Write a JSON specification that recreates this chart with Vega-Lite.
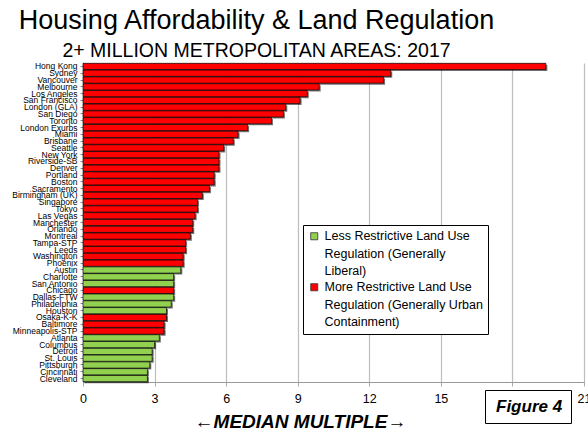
{
  "$schema": "https://vega.github.io/schema/vega-lite/v6.json",
  "width": 501,
  "height": 319,
  "autosize": {"type": "none"},
  "padding": {"left": 83, "top": 63, "right": 4, "bottom": 56},
  "background": "white",
  "config": {"view": {"stroke": null}},
  "title": {
    "text": "Housing Affordability & Land Regulation",
    "subtitle": "2+ MILLION METROPOLITAN AREAS: 2017",
    "font": "Liberation Sans",
    "fontSize": 27,
    "fontWeight": "normal",
    "color": "black",
    "subtitleFont": "Liberation Sans",
    "subtitleFontSize": 19.5,
    "subtitleColor": "black",
    "subtitlePadding": 7,
    "anchor": "middle",
    "frame": "group",
    "dx": -77,
    "offset": 0
  },
  "data": {
    "values": [
      {"city": "Hong Kong", "mm": 19.4, "reg": "More"},
      {"city": "Sydney", "mm": 12.9, "reg": "More"},
      {"city": "Vancouver", "mm": 12.6, "reg": "More"},
      {"city": "Melbourne", "mm": 9.9, "reg": "More"},
      {"city": "Los Angeles", "mm": 9.4, "reg": "More"},
      {"city": "San Francisco", "mm": 9.1, "reg": "More"},
      {"city": "London (GLA)", "mm": 8.5, "reg": "More"},
      {"city": "San Diego", "mm": 8.4, "reg": "More"},
      {"city": "Toronto", "mm": 7.9, "reg": "More"},
      {"city": "London Exurbs", "mm": 6.9, "reg": "More"},
      {"city": "Miami", "mm": 6.5, "reg": "More"},
      {"city": "Brisbane", "mm": 6.3, "reg": "More"},
      {"city": "Seattle", "mm": 5.9, "reg": "More"},
      {"city": "New York", "mm": 5.7, "reg": "More"},
      {"city": "Riverside-SB", "mm": 5.7, "reg": "More"},
      {"city": "Denver", "mm": 5.7, "reg": "More"},
      {"city": "Portland", "mm": 5.5, "reg": "More"},
      {"city": "Boston", "mm": 5.5, "reg": "More"},
      {"city": "Sacramento", "mm": 5.3, "reg": "More"},
      {"city": "Birmingham (UK)", "mm": 5.0, "reg": "More"},
      {"city": "Singapore", "mm": 4.8, "reg": "More"},
      {"city": "Tokyo", "mm": 4.8, "reg": "More"},
      {"city": "Las Vegas", "mm": 4.7, "reg": "More"},
      {"city": "Manchester", "mm": 4.6, "reg": "More"},
      {"city": "Orlando", "mm": 4.6, "reg": "More"},
      {"city": "Montreal", "mm": 4.5, "reg": "More"},
      {"city": "Tampa-STP", "mm": 4.3, "reg": "More"},
      {"city": "Leeds", "mm": 4.3, "reg": "More"},
      {"city": "Washington", "mm": 4.2, "reg": "More"},
      {"city": "Phoenix", "mm": 4.2, "reg": "More"},
      {"city": "Austin", "mm": 4.1, "reg": "Less"},
      {"city": "Charlotte", "mm": 3.8, "reg": "Less"},
      {"city": "San Antonio", "mm": 3.8, "reg": "Less"},
      {"city": "Chicago", "mm": 3.8, "reg": "More"},
      {"city": "Dallas-FTW", "mm": 3.8, "reg": "Less"},
      {"city": "Philadelphia", "mm": 3.7, "reg": "Less"},
      {"city": "Houston", "mm": 3.5, "reg": "Less"},
      {"city": "Osaka-K-K", "mm": 3.5, "reg": "More"},
      {"city": "Baltimore", "mm": 3.4, "reg": "More"},
      {"city": "Minneapolis-STP", "mm": 3.4, "reg": "More"},
      {"city": "Atlanta", "mm": 3.2, "reg": "Less"},
      {"city": "Columbus", "mm": 3.0, "reg": "Less"},
      {"city": "Detroit", "mm": 2.9, "reg": "Less"},
      {"city": "St. Louis", "mm": 2.9, "reg": "Less"},
      {"city": "Pittsburgh", "mm": 2.8, "reg": "Less"},
      {"city": "Cincinnati", "mm": 2.7, "reg": "Less"},
      {"city": "Cleveland", "mm": 2.7, "reg": "Less"}
    ]
  },
  "encoding": {
    "y": {
      "field": "city",
      "type": "nominal",
      "sort": null,
      "scale": {"paddingInner": 0.08, "paddingOuter": 0.05},
      "axis": {
        "title": null,
        "labelFont": "Liberation Sans Narrow, Liberation Sans",
        "labelFontSize": 8.5,
        "labelColor": "black",
        "labelOverlap": false,
        "labelPadding": 3,
        "tickSize": 3,
        "tickColor": "#888",
        "domainColor": "#888",
        "grid": false
      }
    },
    "x": {
      "field": "mm",
      "type": "quantitative",
      "scale": {"domain": [0, 21], "nice": false},
      "axis": {
        "values": [0, 3, 6, 9, 12, 15, 18, 21],
        "title": "←MEDIAN MULTIPLE→",
        "titleFont": "Liberation Sans, DejaVu Sans",
        "titleFontSize": 19,
        "titleFontStyle": "italic",
        "titleFontWeight": "bold",
        "titleColor": "black",
        "titleX": 217,
        "titleY": 45,
        "titleAlign": "center",
        "titleBaseline": "alphabetic",
        "labelFont": "Liberation Sans",
        "labelFontSize": 12.5,
        "labelColor": "black",
        "labelPadding": 6,
        "labelFlush": false,
        "tickSize": 4,
        "tickColor": "#aaa",
        "domainColor": "#999",
        "grid": true,
        "gridColor": "#bdbdbd",
        "gridWidth": 1.2
      }
    }
  },
  "layer": [
    {
      "mark": {"type": "bar", "fill": "black", "opacity": 0.55, "xOffset": 1.5, "yOffset": 1.5}
    },
    {
      "mark": {"type": "bar", "stroke": "black", "strokeWidth": 0.7},
      "encoding": {
        "color": {
          "field": "reg",
          "type": "nominal",
          "scale": {"domain": ["Less", "More"], "range": ["#92D050", "#FF0000"]},
          "legend": {
            "title": null,
            "orient": "none",
            "legendX": 220,
            "legendY": 162,
            "strokeColor": "black",
            "fillColor": "white",
            "padding": 5,
            "symbolType": "square",
            "symbolSize": 50,
            "symbolStrokeColor": "#333",
            "symbolStrokeWidth": 0.8,
            "labelFont": "Liberation Sans",
            "labelFontSize": 12.5,
            "labelColor": "black",
            "labelLimit": 300,
            "labelBaseline": "top",
            "labelOffset": 4,
            "rowPadding": 3,
            "labelExpr": "datum.label == 'Less' ? ['Less Restrictive Land Use', 'Regulation (Generally', 'Liberal)'] : ['More Restrictive Land Use', 'Regulation (Generally Urban', 'Containment)']",
            "encode": {"labels": {"update": {"lineHeight": {"value": 17.3}, "dy": {"value": -6}}}}
          }
        },
        "strokeDash": {
          "datum": "Figure 4",
          "scale": {"range": [[1, 0]]},
          "legend": {
            "title": null,
            "orient": "none",
            "legendX": 402,
            "legendY": 327,
            "strokeColor": "black",
            "fillColor": "white",
            "padding": 8,
            "symbolSize": 0,
            "symbolOpacity": 0,
            "symbolStrokeWidth": 0,
            "labelOffset": -14,
            "labelFont": "Liberation Sans",
            "labelFontSize": 17,
            "labelFontStyle": "italic",
            "labelFontWeight": "bold",
            "labelColor": "black"
          }
        }
      }
    }
  ]
}
